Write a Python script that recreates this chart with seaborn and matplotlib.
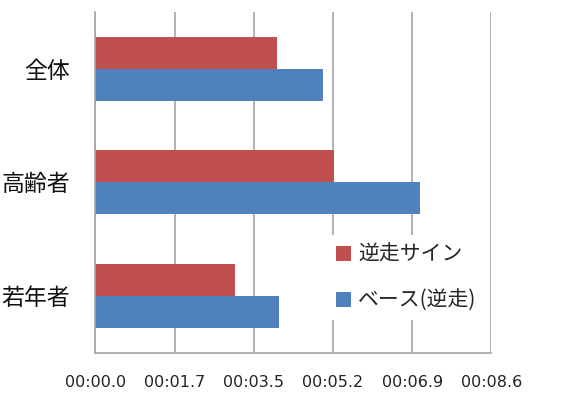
import numpy as np
import pandas as pd
import matplotlib
matplotlib.use("Agg")
import matplotlib.pyplot as plt
import seaborn as sns
from matplotlib.ticker import MultipleLocator, FuncFormatter

# データ(秒)
groups = ["全体", "高齢者", "若年者"]
series = ["逆走サイン", "ベース(逆走)"]
sign_sec = [3.97, 5.20, 3.05]
base_sec = [4.96, 7.08, 4.00]

df = pd.DataFrame({
    "group": groups * 2,
    "series": [series[0]] * 3 + [series[1]] * 3,
    "sec": sign_sec + base_sec,
})

sns.set_style("white")
plt.rcParams["font.family"] = ["Noto Sans CJK JP", "DejaVu Sans"]

fig = plt.figure(figsize=(5.84, 3.94), dpi=100)
ax = fig.add_axes([0.1632, 0.1048, 0.8413 - 0.1632, 0.9695 - 0.1048])

sns.barplot(data=df, x="sec", y="group", hue="series", order=groups,
            hue_order=series, palette=["#C0504D", "#4F81BD"], orient="h",
            width=0.564, gap=0, ax=ax, errorbar=None, saturation=1,
            edgecolor="none")

# Excelの時間軸(1目盛 = 0.00002日 = 1.728秒)
step = 1.728
ax.set_xlim(0, step * 5)
ax.set_ylim(2.5, -0.5)
ax.xaxis.set_major_locator(MultipleLocator(step))
ax.xaxis.set_major_formatter(FuncFormatter(lambda v, p: "00:%04.1f" % (v + 1e-9)))
ax.grid(axis="x", color="#a6a6a6", linewidth=1.2)
ax.set_axisbelow(True)

for s in ["top", "right"]:
    ax.spines[s].set_visible(False)
for s in ["left", "bottom"]:
    ax.spines[s].set_color("#a6a6a6")
    ax.spines[s].set_linewidth(1.2)

ax.tick_params(axis="x", length=0, pad=16, labelsize=11.5, labelcolor="#222222")
ax.tick_params(axis="y", length=0, pad=18, labelsize=16.5, labelcolor="#111111")
for t in ax.get_xticklabels():
    t.set_family(["DejaVu Sans"])
ax.set_xlabel("")
ax.set_ylabel("")

leg = ax.legend(loc="lower right", bbox_to_anchor=(1.01, 0.065), frameon=True,
                fontsize=15, handlelength=0.7, handleheight=0.7,
                handletextpad=0.35, labelspacing=1.15, borderpad=0.4)
leg.get_frame().set_facecolor("white")
leg.get_frame().set_edgecolor("none")
leg.get_frame().set_alpha(1)

fig.savefig("out.png", dpi=100)
